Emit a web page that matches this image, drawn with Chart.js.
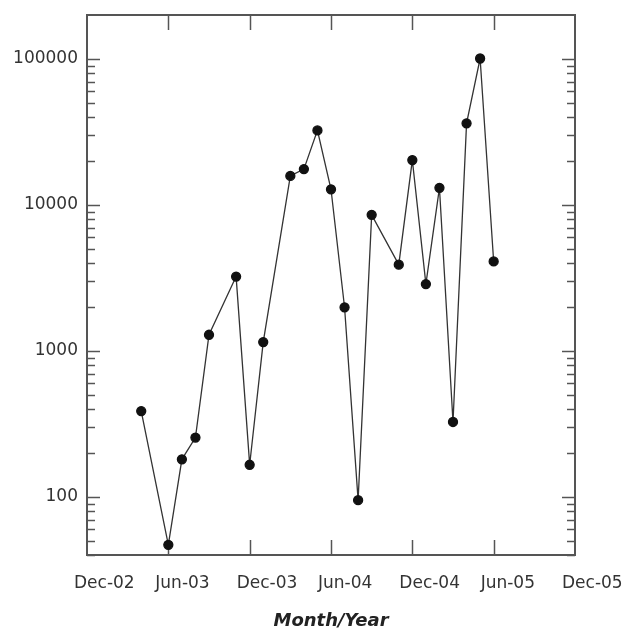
<!DOCTYPE html>
<html>
<head>
<meta charset="utf-8">
<script src="https://cdn.jsdelivr.net/npm/chart.js@4.4.0/dist/chart.umd.min.js"></script>
<style>
  html, body { margin: 0; padding: 0; background: #fff; }
</style>
</head>
<body>
<canvas id="chart" width="631" height="633"></canvas>
<script>
// months counted from Dec-02 (0 = Dec-02, 6 = Jun-03, ...)
const months = [4, 6, 7, 8, 9, 11, 12, 13, 15, 16, 17, 18, 19, 20, 21, 23, 24, 25, 26, 27, 28, 29, 30];
const counts = [387, 47, 181, 255, 1290, 3230, 166, 1150, 15800, 17600, 32400, 12800, 1990, 95, 8550,
                3900, 20300, 2870, 13100, 326, 36200, 100700, 4100];
const xTickLabels = ['Dec-02', 'Jun-03', 'Dec-03', 'Jun-04', 'Dec-04', 'Jun-05', 'Dec-05'];
const yTickValues = [100, 1000, 10000, 100000];

// frame box + inward tick marks like the original plot
const frameTicks = {
  id: 'frameTicks',
  beforeDatasetsDraw(chart) {
    const { ctx, chartArea: a, scales: { x, y } } = chart;
    ctx.save();
    ctx.strokeStyle = '#555';
    ctx.lineWidth = 1.5;
    const seg = (x1, y1, x2, y2) => { ctx.beginPath(); ctx.moveTo(x1, y1); ctx.lineTo(x2, y2); ctx.stroke(); };
    for (let e = 1; e <= 5; e++) {
      for (let k = 1; k <= 9; k++) {
        const v = k * Math.pow(10, e);
        if (v < y.min || v > 100000) continue;
        const py = Math.round(y.getPixelForValue(v)) + 0.5;
        const len = k === 1 ? 13 : 8;
        seg(a.left, py, a.left + len, py);
        seg(a.right, py, a.right - len, py);
      }
    }
    for (let m = 6; m < 36; m += 6) {
      const px = Math.round(x.getPixelForValue(m)) + 0.5;
      seg(px, a.top, px, a.top + 15);
      seg(px, a.bottom, px, a.bottom - 15);
    }
    ctx.lineWidth = 2;
    ctx.strokeRect(a.left, a.top, a.right - a.left, a.bottom - a.top);
    ctx.restore();
  }
};

new Chart(document.getElementById('chart').getContext('2d'), {
  type: 'line',
  data: {
    datasets: [{
      data: months.map((m, i) => ({ x: m, y: counts[i] })),
      borderColor: '#333',
      borderWidth: 1.3,
      pointRadius: 4.5,
      pointBackgroundColor: '#111',
      pointBorderColor: '#111',
      tension: 0
    }]
  },
  options: {
    responsive: false,
    animation: false,
    devicePixelRatio: 1,
    events: [],
    layout: { padding: { left: 0, top: 15, right: 56, bottom: 0 } },
    plugins: {
      legend: { display: false },
      tooltip: { enabled: false }
    },
    scales: {
      x: {
        type: 'linear',
        min: 0,
        max: 36,
        grid: { display: false },
        border: { display: false },
        afterBuildTicks: (s) => { s.ticks = xTickLabels.map((_, i) => ({ value: i * 6 })); },
        afterFit: (s) => { s.height = 78; s.paddingLeft = 0; s.paddingRight = 0; },
        ticks: {
          autoSkip: false,
          maxRotation: 0,
          align: 'start',
          labelOffset: -13,
          padding: 10,
          color: '#333',
          font: { family: 'DejaVu Sans', size: 17 },
          callback: (v, i) => xTickLabels[i]
        },
        title: {
          display: true,
          text: 'Month/Year',
          color: '#222',
          font: { family: 'DejaVu Sans', size: 18, weight: 'bold', style: 'italic' },
          padding: { top: 0, bottom: 1 }
        }
      },
      y: {
        type: 'logarithmic',
        min: 40,
        max: 200000,
        grid: { display: false },
        border: { display: false },
        afterBuildTicks: (s) => { s.ticks = yTickValues.map(v => ({ value: v })); },
        afterFit: (s) => { s.width = 87; s.paddingTop = 0; s.paddingBottom = 0; },
        ticks: {
          padding: 1,
          color: '#333',
          font: { family: 'DejaVu Sans', size: 17 },
          callback: (v) => String(v)
        }
      }
    }
  },
  plugins: [frameTicks]
});
</script>
</body>
</html>
